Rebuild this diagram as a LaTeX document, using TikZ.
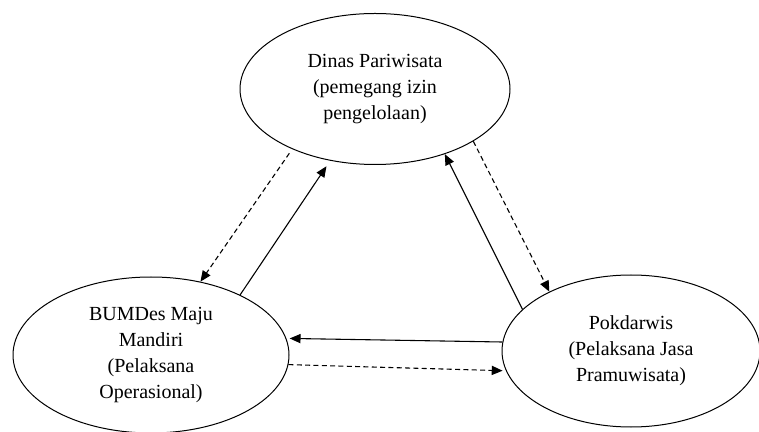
\documentclass[tikz,border=0pt]{standalone}
\usepackage{fontspec}
\setmainfont{Liberation Serif}
\usetikzlibrary{arrows.meta,shapes.geometric}
\begin{document}
\begin{tikzpicture}[x=0.6pt,y=-0.6pt,
        actor/.style={draw,ellipse,line width=0.6pt,inner sep=0pt,align=center,font=\fontsize{12}{15.5}\selectfont},
        flow/.style={-{Triangle[length=6.5pt,width=5.5pt]},line width=0.65pt},
        info/.style={flow,dash pattern=on 3pt off 2pt}]
        \useasboundingbox (0,0) rectangle (759,432);
        \node[actor,minimum width=162pt,minimum height=90.6pt] (dinas) at (375,89) {Dinas Pariwisata\\(pemegang izin\\pengelolaan)};
        \node[actor,minimum width=165.6pt,minimum height=93.6pt] (bumdes) at (151,355) {BUMDes Maju\\Mandiri\\(Pelaksana\\Operasional)};
        \node[actor,minimum width=154.8pt,minimum height=91.2pt] (pokdarwis) at (631,351) {Pokdarwis\\(Pelaksana Jasa\\Pramuwisata)};
        \draw[info,shorten <=3pt] (dinas.216) -- (bumdes.56);
        \draw[flow,shorten >=4pt] (bumdes.34) -- (dinas.238);
        \draw[flow] (pokdarwis.159) -- (dinas.317);
        \draw[info] (dinas.332) -- (pokdarwis.144);
        \draw[flow,shorten >=2pt] (pokdarwis.176) -- (bumdes.7);
        \draw[info,shorten >=2pt] (bumdes.356) -- (pokdarwis.189);
    \end{tikzpicture}
\end{document}
